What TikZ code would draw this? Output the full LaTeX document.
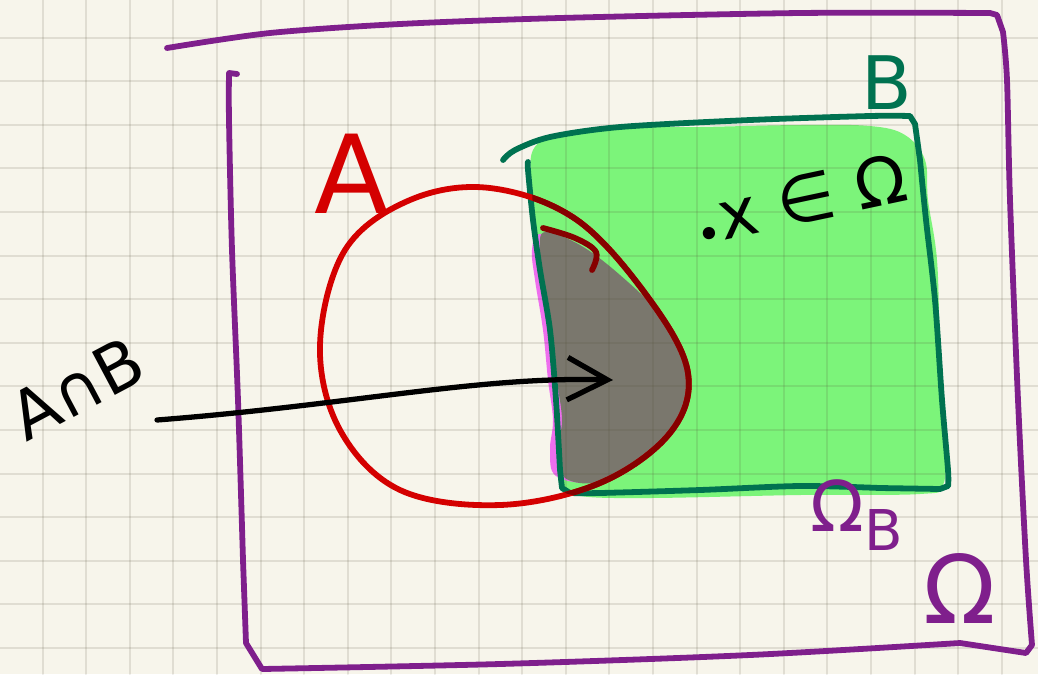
\documentclass[tikz,border=0pt]{standalone}
\usepackage{fontspec}
\setmainfont{DejaVu Sans}
\setsansfont{DejaVu Sans}
\usetikzlibrary{arrows.meta, positioning}
\definecolor{cpaper}{HTML}{F7F5EB}
\definecolor{cgridink}{HTML}{55503A}
\definecolor{cpurple}{HTML}{7F1F8C}
\definecolor{cdgreen}{HTML}{007250}
\definecolor{cgreen}{HTML}{7CF47A}
\definecolor{cred}{HTML}{D40000}
\definecolor{cdred}{HTML}{860000}
\definecolor{cgray}{HTML}{7A776D}
\definecolor{cpink}{HTML}{EE6EEE}
\tikzset{
  every picture/.style={font=\sffamily, line cap=round, line join=round},
  pen/.style={draw=#1, line width=3.3pt},
  gridline/.style={draw=cgridink, opacity=0.14, line width=1.1pt},
  handtext/.style={text=#1, inner sep=0pt},
  arrowpen/.style={draw=black, line width=3pt, -{Straight Barb[length=0.8cm, width=0.85cm, line width=3pt]}},
}

\begin{document}
\begin{tikzpicture}[x=0.02cm, y=-0.02cm]
  \useasboundingbox[fill=cpaper] (0,0) rectangle (1038,674);
  % coloured areas
  \fill[cgreen] plot[smooth cycle, tension=0.6] coordinates {(533,150) (560,135) (620,128) (700,127) (800,125) (870,126) (905,135) (925,160) (928,200) (937,260) (940,350) (945,440) (943,485) (920,494) (800,495) (650,498) (580,496) (560,485) (556,440) (553,380) (545,310) (537,250) (532,190)};
  \fill[cpink] plot[smooth cycle, tension=0.6] coordinates {(540,234) (575,245) (615,275) (655,315) (677,360) (681,395) (665,430) (635,460) (595,482) (556,476) (550,450) (553,420) (548,380) (543,330) (535,280) (532,250)};
  \fill[cgray] plot[smooth cycle, tension=0.6] coordinates {(545,232) (580,245) (620,275) (660,315) (682,360) (686,395) (670,430) (640,460) (600,482) (565,478) (558,450) (562,420) (557,380) (552,330) (544,280) (540,250)};
  % paper grid
  \foreach \i in {0,...,23} \draw[gridline] (-1+43.6*\i,0) -- (-1+43.6*\i,674);
  \foreach \j in {1,...,15} \draw[gridline] (0,-6+43.6*\j) -- (1038,-6+43.6*\j);
  % Omega frame
  \draw[pen=cpurple] plot[smooth, tension=0.5] coordinates {(167,48) (270,33) (400,24) (560,18) (800,13) (990,13)}
    -- (997,15) -- plot[smooth, tension=0.5] coordinates {(1003,32) (1007,80) (1010,200) (1018,400) (1026,560) (1032,645)}
    -- (1026,653) -- plot[smooth, tension=0.5] coordinates {(960,643) (750,655) (500,664) (262,669)}
    -- (246,643) -- plot[smooth, tension=0.5] coordinates {(243,560) (238,400) (232,250) (229,120) (229,73)} -- (237,74);
  % set B
  \draw[pen=cdgreen] plot[smooth, tension=0.5] coordinates {(503,160) (515,150) (550,137) (620,127) (750,120) (870,116) (910,116)}
    -- (915,124) -- plot[smooth, tension=0.5] coordinates {(920,160) (926,220) (935,300) (942,400) (948,470) (948,486)}
    -- (940,489) -- plot[smooth, tension=0.5] coordinates {(880,488) (800,486) (700,490) (600,493) (570,493)}
    -- (562,488) -- plot[smooth, tension=0.5] coordinates {(560,470) (556,400) (550,330) (540,270) (533,220) (528,170) (528,162)};
  % set A
  \def\Acircle{plot[smooth cycle, tension=0.6] coordinates {(490,188) (577,220) (650,300) (688,373) (670,433) (600,483) (500,505) (400,490) (340,430) (320,345) (345,250) (410,200)}}
  \draw[pen=cred] \Acircle;
  \begin{scope}
    \clip plot[smooth cycle, tension=0.6] coordinates {(533,150) (560,135) (620,128) (700,127) (800,125) (870,126) (905,135) (925,160) (928,200) (937,260) (940,350) (945,440) (943,485) (920,494) (800,495) (650,498) (580,496) (560,485) (556,440) (553,380) (545,310) (537,250) (532,190)};
    \draw[pen=cdred] \Acircle;
  \end{scope}
  \draw[pen=cdred] plot[smooth, tension=0.6] coordinates {(543,228) (575,238) (596,252) (592,270)};
  % labels
  \node[handtext=cred, font=\fontsize{62}{62}\selectfont] (labA) at (352,174) {A};
  \node[handtext=cdgreen, font=\fontsize{42}{42}\selectfont] (labB) at (887,83) {B};
  \node[handtext=black, font=\fontsize{38}{38}\selectfont, rotate=12] (labx) at (800,202) {{\fontsize{24}{24}\selectfont\raisebox{-0.3ex}{•}}x ∈ Ω};
  \node[handtext=black, font=\fontsize{38}{38}\selectfont, rotate=28] (labAB) at (77,388) {A∩B};
  \node[handtext=cpurple, font=\fontsize{40}{40}\selectfont] (labOB) at (857,515) {Ω\raisebox{-0.5ex}{\fontsize{32}{32}\selectfont B}};
  \node[handtext=cpurple, font=\fontsize{54}{54}\selectfont] (labO) at (960,588) {Ω};
  % arrow into the intersection
  \coordinate (abtail) at (157,420);
  \coordinate (abtip) at (613,380);
  \draw[arrowpen] (abtail) .. controls (350,405) and (480,376) .. (abtip);
\end{tikzpicture}
\end{document}
